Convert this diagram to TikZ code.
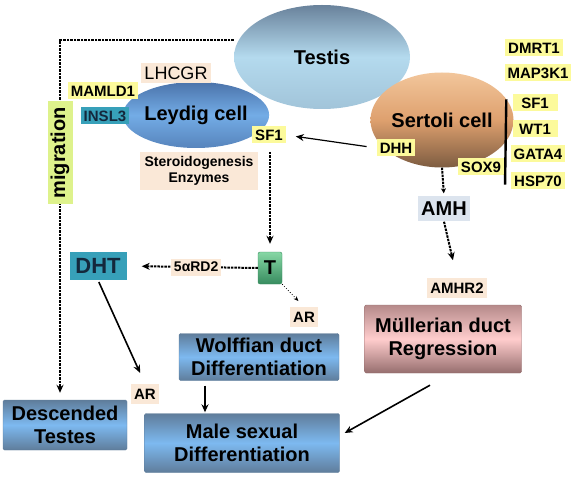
\documentclass[tikz,border=0pt]{standalone}
\usepackage{fontspec}
\setmainfont{Liberation Sans}
\usetikzlibrary{shapes.geometric,arrows.meta}
\definecolor{tagyellow}{RGB}{252,250,155}
\definecolor{tagpeach}{RGB}{250,232,215}
\definecolor{taglime}{RGB}{222,242,140}
\definecolor{tagteal}{RGB}{55,160,185}
\definecolor{tagink}{RGB}{20,40,60}
\definecolor{amhgray}{RGB}{220,228,238}
\definecolor{boxblue}{RGB}{125,185,240}
\definecolor{boxbluedark}{RGB}{95,125,155}
\definecolor{boxpink}{RGB}{255,205,205}
\definecolor{boxpinkdark}{RGB}{150,110,110}
\definecolor{testisdark}{RGB}{105,130,155}
\definecolor{testislight}{RGB}{180,218,238}
\definecolor{leydigdark}{RGB}{75,115,170}
\definecolor{leydiglight}{RGB}{115,172,230}
\definecolor{sertolilight}{RGB}{242,198,155}
\definecolor{sertolimid}{RGB}{222,160,110}
\definecolor{sertolidark}{RGB}{125,92,65}
\definecolor{tgreen}{RGB}{135,215,165}
\definecolor{tgreendark}{RGB}{55,140,95}
\newcommand{\boldsize}[2]{\fontsize{#1}{#2}\selectfont\bfseries}
\tikzset{
  tag/.style={
    rectangle,
    inner xsep=3pt,
    inner ysep=1.5pt,
    minimum height=17pt,
    align=center,
    font=\boldsize{15}{17}
  },
  tag-yellow/.style={tag, fill=tagyellow},
  tag-peach/.style={tag, fill=tagpeach},
  tag-teal/.style={tag, fill=tagteal, text=tagink},
  cell/.style={ellipse, inner sep=0pt, font=\boldsize{20}{22}},
  box-blue/.style={
    rectangle, rounded corners=1.5pt, draw=boxbluedark, thin,
    top color=boxbluedark, bottom color=boxbluedark, middle color=boxblue,
    align=center, font=\boldsize{20}{23}
  },
  box-pink/.style={
    box-blue, draw=boxpinkdark,
    top color=boxpinkdark!70!boxpink, bottom color=boxpinkdark, middle color=boxpink
  },
  link/.style={line width=1.6pt, -{Stealth[length=8pt,width=7pt]}},
  link-dash/.style={link, line width=2pt, dash pattern=on 2.5pt off 1pt},
  link-dot/.style={line width=0.8pt, dotted, -{Stealth[length=5pt,width=4pt]}}
}

\begin{document}
\begin{tikzpicture}[x=1pt,y=-1pt]
  \useasboundingbox (0,0) rectangle (583,478);

  % the three cells
  \node[cell, minimum width=176pt, minimum height=104pt,
    top color=testisdark, bottom color=testislight!75!testisdark, middle color=testislight]
    (testis) at (322,57) {Testis};
  \node[cell, minimum width=135pt, minimum height=66pt,
    top color=leydigdark, bottom color=leydigdark!70!leydiglight, middle color=leydiglight]
    (leydig) at (196,115) {Leydig cell};
  \node[cell, minimum width=121pt, minimum height=95pt,
    top color=sertolilight, bottom color=sertolidark, middle color=sertolimid]
    (sertoli) at (442,120) {Sertoli cell};

  % Leydig side
  \node[tag-yellow] (mamld) at (103,91) {MAMLD1};
  \node[tag-teal] (insl) at (105,116) {INSL3};
  \node[tag-peach, font=\fontsize{18}{20}\selectfont, minimum height=20pt] (lhcgr) at (176,73) {LHCGR};
  \node[tag-yellow] (sfl) at (269,135) {SF1};
  \node[tag-peach, font=\boldsize{14}{16}, minimum width=118pt, minimum height=38pt]
    (steroid) at (199,171) {Steroidogenesis\\Enzymes};

  % Sertoli side
  \node[tag-yellow] (dhh) at (396,148) {DHH};
  \node[tag-yellow] (sox) at (481,167) {SOX9};
  \node[tag-yellow] (dmrt) at (534,48) {DMRT1};
  \node[tag-yellow] (mapk) at (538,73) {MAP3K1};
  \node[tag-yellow, minimum width=45pt] (sfr) at (535,103) {SF1};
  \node[tag-yellow, minimum width=45pt] (wt) at (535,129) {WT1};
  \node[tag-yellow] (gata) at (538,154) {GATA4};
  \node[tag-yellow] (hsp) at (538,181) {HSP70};
  \draw[line width=2.4pt] ([xshift=-6pt,yshift=-5pt]sfr.north west)
    -- ([xshift=-6pt,yshift=5pt]hsp.south west);

  % hormones
  \node[tag, fill=amhgray, font=\boldsize{20}{22}, minimum width=52pt, minimum height=25pt]
    (amh) at (444,209) {AMH};
  \node[tag-peach, minimum height=20pt] (amhr) at (457,288) {AMHR2};
  \node[rectangle, rounded corners=2pt, draw=tgreendark, top color=tgreen, bottom color=tgreendark,
    font=\boldsize{20}{22}, minimum width=24pt, minimum height=32pt, inner sep=0pt]
    (t) at (270,268) {T};
  \node[tag-teal, font=\boldsize{22}{24}, minimum width=57pt, minimum height=28pt]
    (dht) at (98,266) {DHT};
  \node[tag-peach, minimum height=20pt] (arr) at (304,317) {AR};
  \node[tag-peach, minimum height=20pt] (arl) at (145,394) {AR};

  % outcomes
  \node[box-blue, minimum width=160pt, minimum height=47pt] (wolff) at (259,357)
    {Wolffian duct\\Differentiation};
  \node[box-blue, minimum width=195pt, minimum height=59pt] (male) at (242,443)
    {Male sexual\\Differentiation};
  \node[box-blue, minimum width=124pt, minimum height=50pt] (desc) at (65,425)
    {Descended\\Testes};
  \node[box-pink, minimum width=157pt, minimum height=68pt] (mull) at (443,339)
    {Müllerian duct\\Regression};

  % connectors
  \draw[link-dash] ([yshift=17pt]testis.west) -| ([xshift=-5pt,yshift=7pt]desc.north)
    node[tag, fill=taglime, rotate=90, font=\boldsize{20}{22}, minimum width=103pt,
      minimum height=25pt, inner sep=0pt, pos=0.66] (migr) {migration};
  \draw[link, line width=1.2pt, shorten <=10pt, shorten >=10pt] (dhh.west) -- (sfl.east);
  \draw[link-dash, shorten >=8pt] (steroid.north -| t.north) -- (t.north);
  \draw[link-dash, shorten >=15pt] (t.west) -- (dht.east)
    node[tag-peach, font=\boldsize{14}{16}, pos=0.47] (rd) {5αRD2};
  \draw[link-dot, shorten >=8pt] (t.south east) -- (arr.north);
  \draw[link, shorten <=2pt, shorten >=12pt] (dht.south) -- (arl.north);
  \draw[link-dash, -{Stealth[length=5pt,width=5pt]}, shorten >=3pt] (sertoli.south) -- (amh.north);
  \draw[link-dash, shorten >=18pt] (amh.south) -- (amhr.north);
  \draw[link, shorten >=1pt] ([xshift=-54pt,yshift=-5pt]wolff.south)
    -- ([xshift=-37pt]male.north);
  \draw[link] ([xshift=-13pt,yshift=-12pt]mull.south) -- ([xshift=5pt,yshift=10pt]male.east);
\end{tikzpicture}
\end{document}
